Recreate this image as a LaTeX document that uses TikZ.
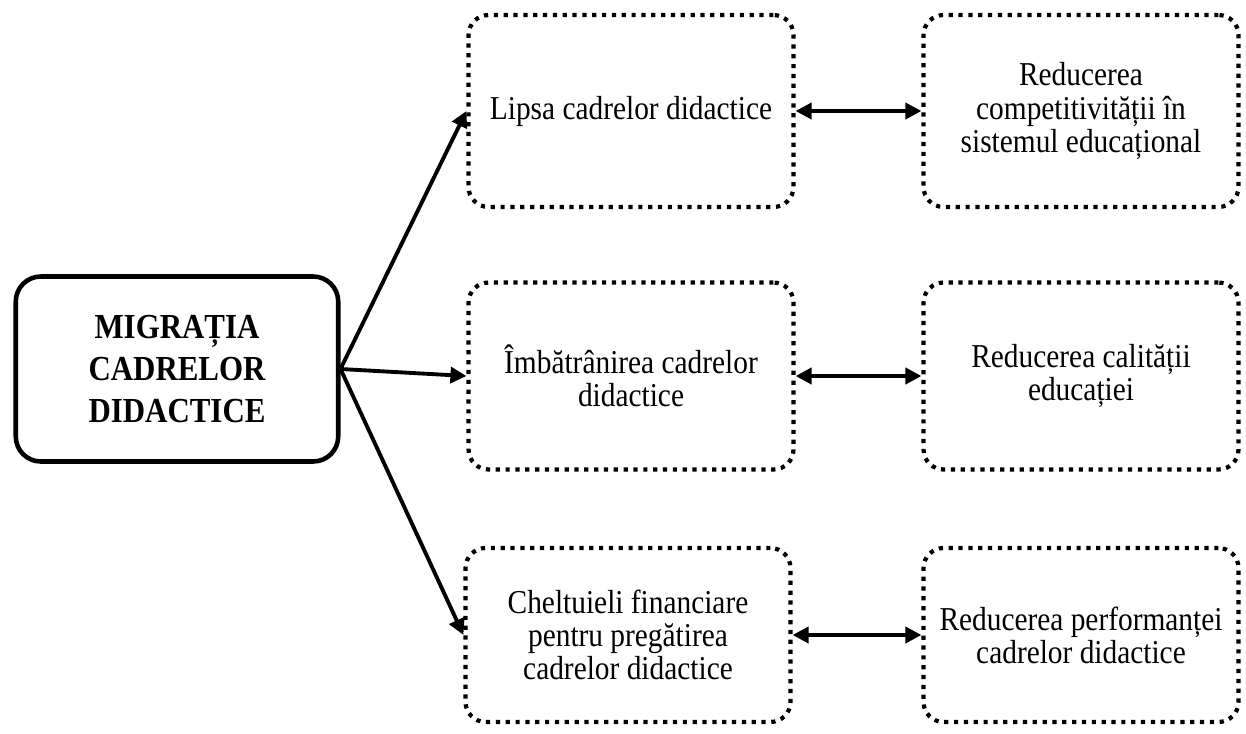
\documentclass[tikz,border=0pt]{standalone}
\usepackage{fontspec}
\setmainfont{Liberation Serif}[FakeStretch=0.88]
\usepackage{tikz}
\usetikzlibrary{positioning, arrows.meta}

\begin{document}
\begin{tikzpicture}[
    x=0.02cm, y=-0.02cm,
    mainbox/.style={rectangle, draw, line width=2.6pt, rounded corners=0.5cm, minimum width=6.45cm, minimum height=3.7cm, align=center, font=\fontsize{20}{24}\selectfont\bfseries},
    level/.style={rectangle, draw, line width=2.4pt, dash pattern=on 2.4pt off 3.2pt, rounded corners=0.4cm, minimum width=6.5cm, align=center, font=\fontsize{19}{18.8}\selectfont},
    result/.style={level, minimum width=6.3cm},
    arrow/.style={-{Triangle[length=0.32cm, width=0.32cm]}, line width=2.2pt},
    dblarrow/.style={{Triangle[length=0.32cm, width=0.32cm]}-{Triangle[length=0.32cm, width=0.32cm]}, line width=2.2pt}
]
\useasboundingbox (0,0) rectangle (1246,733);

\node[mainbox] (mig) at (177, 369) {MIGRAȚIA\\CADRELOR\\DIDACTICE};

\node[level, minimum height=3.84cm] (e1) at (631, 111) {Lipsa cadrelor didactice};
\node[level, minimum height=3.74cm] (e2) at (631, 376) {Îmbătrânirea cadrelor\\didactice};
\node[level, minimum height=3.48cm] (e3) at (628, 635) {Cheltuieli financiare\\pentru pregătirea\\cadrelor didactice};

\node[result, minimum height=3.84cm] (r1) at (1081, 111) {Reducerea\\competitivității în\\sistemul educațional};
\node[result, minimum height=3.74cm] (r2) at (1081, 376) {Reducerea calității\\educației};
\node[result, minimum height=3.48cm] (r3) at (1081, 635) {Reducerea performanței\\cadrelor didactice};

\draw[arrow] (mig.east) -- (e1.west);
\draw[arrow] (mig.east) -- (e2.west);
\draw[arrow] (mig.east) -- (e3.west);

\draw[dblarrow] (e1) -- (r1);
\draw[dblarrow] (e2) -- (r2);
\draw[dblarrow] (e3) -- (r3);

\end{tikzpicture}
\end{document}
